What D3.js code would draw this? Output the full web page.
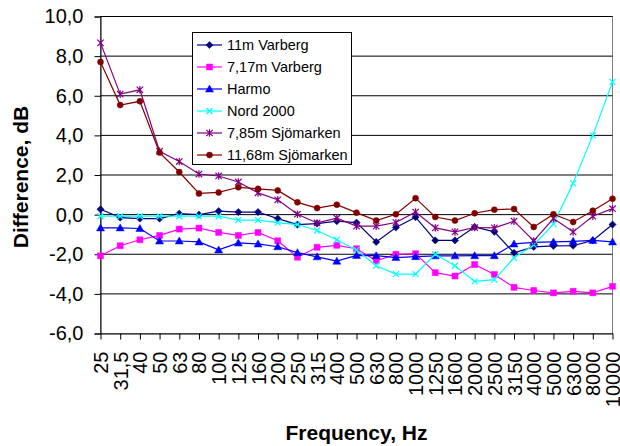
<!DOCTYPE html>
<html>
<head>
<meta charset="utf-8">
<script src="https://cdn.jsdelivr.net/npm/d3@7/dist/d3.min.js"></script>
<style>
  html, body { margin: 0; padding: 0; background: #fff; }
  svg { display: block; font-family: Arial, "Liberation Sans", sans-serif; }
</style>
</head>
<body>
<svg id="chart" width="620" height="446"></svg>
<script>
// Third-octave band centre frequencies
const frequencies = ["25", "31,5", "40", "50", "63", "80", "100", "125", "160", "200",
  "250", "315", "400", "500", "630", "800", "1000", "1250", "1600", "2000",
  "2500", "3150", "4000", "5000", "6300", "8000", "10000"];

// Level differences per band, dB
const varberg11 = [0.27, -0.15, -0.2, -0.2, 0.05, 0.0, 0.18, 0.13, 0.13, -0.2,
  -0.5, -0.45, -0.33, -0.4, -1.38, -0.65, -0.13, -1.3, -1.3, -0.62,
  -0.87, -1.93, -1.63, -1.58, -1.57, -1.3, -0.5];
const varberg717 = [-2.08, -1.57, -1.27, -1.05, -0.73, -0.68, -0.9, -1.05, -0.9, -1.32,
  -2.15, -1.65, -1.55, -1.72, -2.33, -2.0, -1.97, -2.93, -3.1, -2.52,
  -3.02, -3.67, -3.83, -3.95, -3.87, -3.95, -3.62];
const harmo = [-0.67, -0.67, -0.7, -1.33, -1.33, -1.38, -1.78, -1.43, -1.48, -1.62,
  -1.92, -2.13, -2.35, -2.06, -2.07, -2.17, -2.12, -2.08, -2.08, -2.07,
  -2.07, -1.48, -1.4, -1.38, -1.35, -1.3, -1.38];
const nord2000 = [-0.08, -0.08, -0.08, -0.08, -0.08, -0.08, -0.08, -0.28, -0.28, -0.4,
  -0.5, -0.8, -1.27, -1.78, -2.58, -3.0, -3.0, -2.0, -2.58, -3.37,
  -3.28, -2.18, -1.53, -0.48, 1.58, 4.0, 6.7];
const sjomarken785 = [8.67, 6.08, 6.3, 3.2, 2.68, 2.05, 1.95, 1.65, 1.1, 0.75,
  0.02, -0.42, -0.18, -0.58, -0.58, -0.4, 0.13, -0.67, -0.87, -0.65,
  -0.67, -0.33, -1.33, -0.2, -0.87, -0.08, 0.3];
const sjomarken1168 = [7.7, 5.53, 5.72, 3.13, 2.15, 1.07, 1.12, 1.38, 1.3, 1.22,
  0.62, 0.33, 0.5, 0.1, -0.3, 0.02, 0.83, -0.12, -0.3, 0.07,
  0.25, 0.28, -0.62, 0.02, -0.37, 0.2, 0.8];

const seriesNames = ["11m Varberg", "7,17m Varberg", "Harmo", "Nord 2000",
  "7,85m Sjömarken", "11,68m Sjömarken"];
const seriesColors = ["#000080", "#ff00ff", "#0000ff", "#00ffff", "#800080", "#800000"];
const seriesMarkers = ["diamond", "square", "triangle", "cross", "asterisk", "circle"];
const seriesValues = [varberg11, varberg717, harmo, nord2000, sjomarken785, sjomarken1168];

const yTicks = [-6, -4, -2, 0, 2, 4, 6, 8, 10];

const series = seriesNames.map((name, i) => ({
  name, color: seriesColors[i], marker: seriesMarkers[i], values: seriesValues[i]
}));

const svg = d3.select("#chart");
const plot = { left: 100.5, right: 612.5, top: 16.5, bottom: 333.5 };

const x = d3.scalePoint().domain(frequencies).range([plot.left, plot.right]).padding(0);
const y = d3.scaleLinear().domain([-6, 10]).range([plot.bottom, plot.top]);

const locale = d3.formatLocale({ decimal: ",", thousands: " ", grouping: [3], currency: ["", ""], minus: "-" });
const fmt = locale.format(".1f");

// Marker paths centred on the origin
function markerPath(type) {
  switch (type) {
    case "diamond": return "M0,-3.6L3.6,0L0,3.6L-3.6,0Z";
    case "square": return "M-3,-3H3V3H-3Z";
    case "triangle": return "M0,-4L4,3L-4,3Z";
    case "cross": return "M-3,-3L3,3M-3,3L3,-3";
    case "asterisk": return "M-3.2,-3.2L3.2,3.2M-3.2,3.2L3.2,-3.2M0,-3.8V3.8";
    case "circle": return d3.arc()({ innerRadius: 0, outerRadius: 3, startAngle: 0, endAngle: 2 * Math.PI });
  }
}
const strokedMarker = t => t === "cross" || t === "asterisk";

// Plot area frame
svg.append("rect")
  .attr("x", plot.left).attr("y", plot.top)
  .attr("width", plot.right - plot.left).attr("height", plot.bottom - plot.top)
  .attr("fill", "none").attr("stroke", "#808080");

// Horizontal gridlines
svg.append("g")
  .selectAll("line")
  .data(yTicks.filter(v => v !== -6))
  .join("line")
  .attr("x1", plot.left).attr("x2", plot.right)
  .attr("y1", d => y(d)).attr("y2", d => y(d))
  .attr("stroke", "#000").attr("stroke-width", 1);

// Y axis
const yAxis = svg.append("g")
  .attr("transform", `translate(${plot.left},0)`)
  .call(d3.axisLeft(y).tickValues(yTicks).tickFormat(fmt).tickSize(6).tickPadding(11));
yAxis.select(".domain").attr("stroke", "#000");
yAxis.selectAll(".tick line").attr("stroke", "#000");
yAxis.selectAll(".tick text")
  .attr("font-size", 20).attr("font-family", "Arial, 'Liberation Sans', sans-serif").attr("fill", "#000");

// X axis
const xAxis = svg.append("g")
  .attr("transform", `translate(0,${plot.bottom})`)
  .call(d3.axisBottom(x).tickSize(6).tickSizeOuter(0));
xAxis.select(".domain").attr("stroke", "#000");
xAxis.selectAll(".tick line").attr("stroke", "#000");
xAxis.selectAll(".tick text")
  .attr("font-size", 20).attr("font-family", "Arial, 'Liberation Sans', sans-serif").attr("fill", "#000")
  .attr("text-anchor", "end")
  .attr("dy", null)
  .attr("y", null)
  .attr("dominant-baseline", "central")
  .attr("transform", "translate(0,18) rotate(-90)");

// Series lines and markers
const line = d3.line().x((d, i) => x(frequencies[i])).y(d => y(d));
const seriesG = svg.append("g").selectAll("g").data(series).join("g");
seriesG.append("path")
  .attr("d", d => line(d.values))
  .attr("fill", "none").attr("stroke", d => d.color).attr("stroke-width", 1.2);
seriesG.each(function (s) {
  d3.select(this).selectAll("path.m")
    .data(s.values)
    .join("path")
    .attr("class", "m")
    .attr("transform", (d, i) => `translate(${x(frequencies[i])},${y(d)})`)
    .attr("d", markerPath(s.marker))
    .attr("fill", strokedMarker(s.marker) ? "none" : s.color)
    .attr("stroke", s.color)
    .attr("stroke-width", strokedMarker(s.marker) ? 1.2 : 0.5);
});

// Legend
const legend = svg.append("g");
legend.append("rect")
  .attr("x", 192.5).attr("y", 32.5).attr("width", 159).attr("height", 132)
  .attr("fill", "#fff").attr("stroke", "#000");
const rows = legend.selectAll("g.row").data(series).join("g")
  .attr("class", "row")
  .attr("transform", (d, i) => `translate(0,${45 + i * 22})`);
rows.append("line")
  .attr("x1", 197).attr("x2", 222).attr("y1", 0).attr("y2", 0)
  .attr("stroke", d => d.color).attr("stroke-width", 1.2);
rows.append("path")
  .attr("transform", "translate(209.5,0)")
  .attr("d", d => markerPath(d.marker))
  .attr("fill", d => strokedMarker(d.marker) ? "none" : d.color)
  .attr("stroke", d => d.color)
  .attr("stroke-width", d => strokedMarker(d.marker) ? 1.2 : 0.5);
rows.append("text")
  .attr("x", 227).attr("y", 0)
  .attr("dominant-baseline", "central")
  .attr("font-size", 14.5)
  .attr("fill", "#000")
  .text(d => d.name);

// Axis titles
svg.append("text")
  .attr("transform", "translate(28,177) rotate(-90)")
  .attr("text-anchor", "middle")
  .attr("font-size", 21).attr("font-weight", "bold")
  .text("Difference, dB");
svg.append("text")
  .attr("x", 356.5).attr("y", 440)
  .attr("text-anchor", "middle")
  .attr("font-size", 21).attr("font-weight", "bold")
  .text("Frequency, Hz");
</script>
</body>
</html>
